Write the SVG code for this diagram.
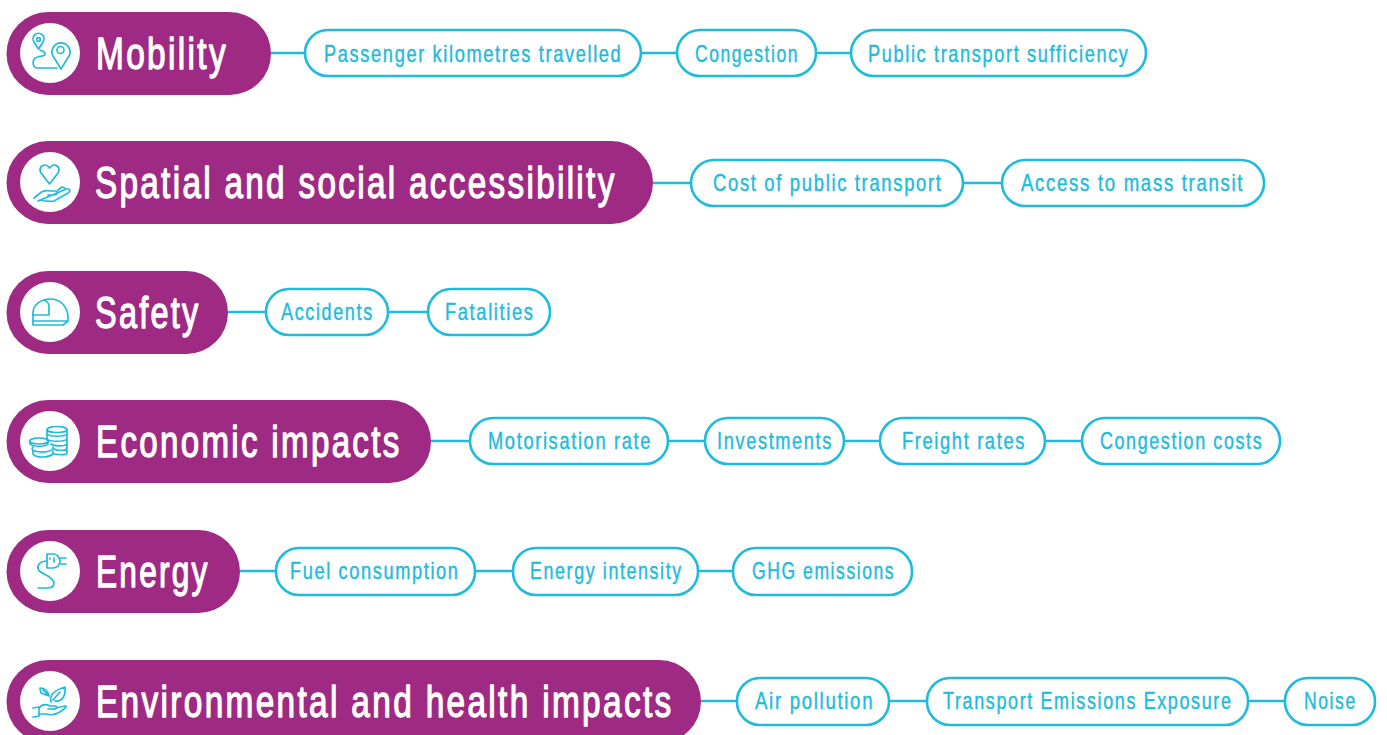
<svg xmlns="http://www.w3.org/2000/svg" width="1387" height="735" viewBox="0 0 1387 735">
<style>
.m{fill:#9e2a83}
.c{fill:#fff}
.p{fill:#fff;stroke:#1fbbdc;stroke-width:2.6}
.l{stroke:#1fbbdc;stroke-width:2.6;fill:none}
.i{stroke:#1fbbdc;stroke-width:1.7;fill:none;stroke-linecap:round;stroke-linejoin:round}
.h{font-family:"Liberation Sans",Arial,sans-serif;font-size:44px;letter-spacing:.07em;fill:#fff;stroke:#fff;stroke-width:1.3;stroke-linejoin:round}
.t{font-family:"Liberation Sans",Arial,sans-serif;font-size:24px;letter-spacing:.09em;fill:#1fbbdc;stroke:#1fbbdc;stroke-width:.45;stroke-linejoin:round}
</style>
<rect width="1387" height="735" fill="#fff"/>
<g id="connectors" class="l">
<path d="M271 53H305M641 53H677M816 53H851"/>
<path d="M653 183H691M963 183H1002"/>
<path d="M228 312H266M388 312H428"/>
<path d="M431 441H470M668 441H705M844 441H880M1045 441H1082"/>
<path d="M240 571H276M475 571H513M698 571H733"/>
<path d="M701 701H737M889 701H927M1248 701H1285"/>
</g>
<g id="mobility"><rect class="m" x="6.500" y="12" width="264.500" height="83" rx="41.500"/><circle class="c" cx="50" cy="53" r="30"/>
<g class="i"><path d="M38.500 49L34 42A5.500 5.500 0 1 1 43 42Z"/><circle cx="38.500" cy="39.500" r="1.800"/><path d="M61 69L53 56A9 9 0 1 1 69 56Z"/><circle cx="60.500" cy="50" r="3.500"/><path d="M40 50C41 51 45 51 45 53.500C45 57 40 56 38 57C32 58 31 68 38 68H57"/></g>
<text class="h" transform="translate(96 69) scale(.8 1)" textLength="165" lengthAdjust="spacingAndGlyphs">Mobility</text></g>
<g id="spatial"><rect class="m" x="6.500" y="141" width="646.500" height="83" rx="41.500"/><circle class="c" cx="50" cy="182" r="30"/>
<g class="i"><path d="M49.500 184L41 173C37 166 46 162 49.500 168C53 162 62 166 58 173Z"/><path d="M34 198L39 194C43 190 46 190 50 191H56C59 192 57 195 54 195H48M57 193L66 189C70 188 71 191 68 193L54 201C50 202 44 201 40 200L38 201Z"/><path d="M58 190L62 187L65 188"/></g>
<text class="h" transform="translate(95 198) scale(.8 1)" textLength="652" lengthAdjust="spacingAndGlyphs">Spatial and social accessibility</text></g>
<g id="safety"><rect class="m" x="6.500" y="271" width="221.500" height="83" rx="41.500"/><circle class="c" cx="50" cy="312" r="30"/>
<g class="i"><path d="M33 325V313C33 304 42 299 50 299C60 299 68 306 68 318V321L63 325ZM33 321H68"/><path d="M33 315H49V307C49 303 47 301 44 300"/></g>
<text class="h" transform="translate(95 328) scale(.8 1)" textLength="132" lengthAdjust="spacingAndGlyphs">Safety</text></g>
<g id="economic"><rect class="m" x="6.500" y="400" width="424.500" height="83" rx="41.500"/><circle class="c" cx="50" cy="441" r="30"/>
<g class="i"><ellipse cx="57" cy="429.500" rx="10" ry="3"/><path d="M47 429.500V440M67 429.500V453C67 455 62 455 54 454M47 434C50 437 64 437 67 434M47 439C50 442 64 442 67 439M51 444C54 446 64 447 67 444M54 449C58 451 64 451 67 449"/><ellipse cx="39" cy="441" rx="9.500" ry="3"/><path d="M30 441V444C33 447 45 447 48 444V441"/><path d="M33 447C31 449 33 451 35 451C40 453 50 452 53 449V447M33 451V454C36 458 48 458 53 454V451"/></g>
<text class="h" transform="translate(96 457) scale(.8 1)" textLength="382" lengthAdjust="spacingAndGlyphs">Economic impacts</text></g>
<g id="energy"><rect class="m" x="6.500" y="530" width="233.500" height="83" rx="41.500"/><circle class="c" cx="50" cy="571" r="30"/>
<g class="i"><path d="M47 554H54C57 554 60 558 60 561C60 566 56 568 53 568H47ZM60 558H66M60 564H66M50 558V559M54 558V562"/><path d="M47 561C40 561 37 565 38 569C39 574 53 575 54 583C54 587 50 588 47 588H38"/></g>
<text class="h" transform="translate(96 587) scale(.8 1)" textLength="142" lengthAdjust="spacingAndGlyphs">Energy</text></g>
<g id="environmental"><rect class="m" x="6.500" y="660" width="694.500" height="83" rx="41.500"/><circle class="c" cx="50" cy="701" r="30"/>
<g class="i"><path d="M51 702C49 694 55 690 65 687C66 696 62 702 55 701M53 700L60 692"/><path d="M49 696L41 693C40 689 40 688 40 688C45 688 48 691 49 696M43 690L47 694"/><path d="M33 708L39 707V716L33 717M39 708C42 704 46 704 50 706H56C58 708 56 709 53 709H48M56 708L65 706C67 706 66 707 64 709C58 714 52 716 46 714H39"/></g>
<text class="h" transform="translate(96 717) scale(.8 1)" textLength="722" lengthAdjust="spacingAndGlyphs">Environmental and health impacts</text></g>
<g id="r1a"><rect class="p" x="305" y="30" width="336" height="46" rx="23"/><text class="t" transform="translate(324 62) scale(.8 1)" textLength="373" lengthAdjust="spacingAndGlyphs">Passenger kilometres travelled</text></g>
<g id="r1b"><rect class="p" x="677" y="30" width="139" height="46" rx="23"/><text class="t" transform="translate(695 62) scale(.8 1)" textLength="130" lengthAdjust="spacingAndGlyphs">Congestion</text></g>
<g id="r1c"><rect class="p" x="851" y="30" width="295" height="46" rx="23"/><text class="t" transform="translate(868 62) scale(.8 1)" textLength="327" lengthAdjust="spacingAndGlyphs">Public transport sufficiency</text></g>
<g id="r2a"><rect class="p" x="691" y="160" width="272" height="46" rx="23"/><text class="t" transform="translate(713 191) scale(.8 1)" textLength="287" lengthAdjust="spacingAndGlyphs">Cost of public transport</text></g>
<g id="r2b"><rect class="p" x="1002" y="160" width="262" height="46" rx="23"/><text class="t" transform="translate(1021 191) scale(.8 1)" textLength="279" lengthAdjust="spacingAndGlyphs">Access to mass transit</text></g>
<g id="r3a"><rect class="p" x="266" y="289" width="122" height="46" rx="23"/><text class="t" transform="translate(281 320) scale(.8 1)" textLength="116" lengthAdjust="spacingAndGlyphs">Accidents</text></g>
<g id="r3b"><rect class="p" x="428" y="289" width="122" height="46" rx="23"/><text class="t" transform="translate(445 320) scale(.8 1)" textLength="112" lengthAdjust="spacingAndGlyphs">Fatalities</text></g>
<g id="r4a"><rect class="p" x="470" y="418" width="198" height="46" rx="23"/><text class="t" transform="translate(488 449) scale(.8 1)" textLength="205" lengthAdjust="spacingAndGlyphs">Motorisation rate</text></g>
<g id="r4b"><rect class="p" x="705" y="418" width="139" height="46" rx="23"/><text class="t" transform="translate(717 449) scale(.8 1)" textLength="145" lengthAdjust="spacingAndGlyphs">Investments</text></g>
<g id="r4c"><rect class="p" x="880" y="418" width="165" height="46" rx="23"/><text class="t" transform="translate(902 449) scale(.8 1)" textLength="155" lengthAdjust="spacingAndGlyphs">Freight rates</text></g>
<g id="r4d"><rect class="p" x="1082" y="418" width="198" height="46" rx="23"/><text class="t" transform="translate(1100 449) scale(.8 1)" textLength="204" lengthAdjust="spacingAndGlyphs">Congestion costs</text></g>
<g id="r5a"><rect class="p" x="276" y="548" width="199" height="47" rx="23"/><text class="t" transform="translate(290 579) scale(.8 1)" textLength="212" lengthAdjust="spacingAndGlyphs">Fuel consumption</text></g>
<g id="r5b"><rect class="p" x="513" y="548" width="185" height="47" rx="23"/><text class="t" transform="translate(530 579) scale(.8 1)" textLength="191" lengthAdjust="spacingAndGlyphs">Energy intensity</text></g>
<g id="r5c"><rect class="p" x="733" y="548" width="179" height="47" rx="23"/><text class="t" transform="translate(752 579) scale(.8 1)" textLength="179" lengthAdjust="spacingAndGlyphs">GHG emissions</text></g>
<g id="r6a"><rect class="p" x="737" y="678" width="152" height="47" rx="23"/><text class="t" transform="translate(755 709) scale(.8 1)" textLength="149" lengthAdjust="spacingAndGlyphs">Air pollution</text></g>
<g id="r6b"><rect class="p" x="927" y="678" width="321" height="47" rx="23"/><text class="t" transform="translate(943 709) scale(.8 1)" textLength="362" lengthAdjust="spacingAndGlyphs">Transport Emissions Exposure</text></g>
<g id="r6c"><rect class="p" x="1285" y="678" width="90" height="47" rx="23"/><text class="t" transform="translate(1304 709) scale(.8 1)" textLength="66" lengthAdjust="spacingAndGlyphs">Noise</text></g>
</svg>
